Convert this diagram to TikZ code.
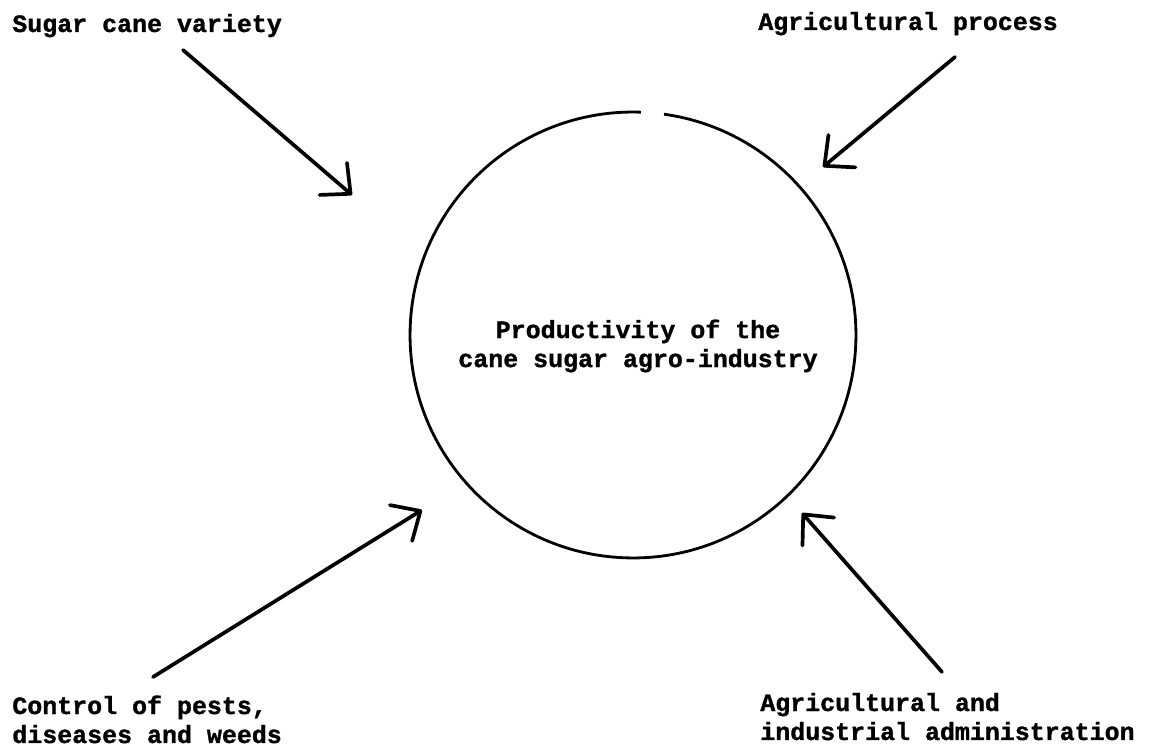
\documentclass[tikz,border=0pt]{standalone}
\usepackage{fontspec}
\setmonofont{Liberation Mono}[BoldFeatures={FakeBold=1.2}]
\usetikzlibrary{arrows.meta}

\begin{document}
\begin{tikzpicture}[x=0.02cm,y=0.02cm,
	lbl/.style={inner sep=0pt,font=\ttfamily\bfseries\fontsize{14.2}{16.5}\selectfont},
	flow/.style={line width=2.1pt,line cap=round,-{Straight Barb[length=13pt,width=24pt,round]}},
	hub/.style={circle,minimum size=8.92cm,inner sep=0pt}]
				\useasboundingbox (0,0) rectangle (1150,750);
				% the circle, with the small gap at its top
				\node[hub] (prod) at (633,415) {};
				\draw[line width=1.6pt] (prod.center) ++(88:4.46cm) arc[start angle=88,end angle=442,radius=4.46cm];
				\node[lbl,align=center] (prodtxt) at (638,404) {Productivity of the\\cane sugar agro-industry};
				% the four factors
				\node[lbl,anchor=base west] (variety) at (12,718) {Sugar cane variety};
				\node[lbl,anchor=base west] (process) at (758,720) {Agricultural process};
				\node[lbl,anchor=base west,align=left] (pests) at (12,7) {Control of pests,\\diseases and weeds};
				\node[lbl,anchor=base west,align=left] (admin) at (760,10) {Agricultural and\\industrial administration};
				\coordinate (variety-tail) at (183,700);
				\coordinate (variety-tip) at (352,555);
				\coordinate (process-tail) at (955,693);
				\coordinate (process-tip) at (823,583);
				\coordinate (pests-tail) at (153,73);
				\coordinate (pests-tip) at (422,240);
				\coordinate (admin-tail) at (942,78);
				\coordinate (admin-tip) at (802,237);
				\draw[flow] (variety-tail) -- (variety-tip);
				\draw[flow] (process-tail) -- (process-tip);
				\draw[flow] (pests-tail) -- (pests-tip);
				\draw[flow] (admin-tail) -- (admin-tip);
\end{tikzpicture}
\end{document}
